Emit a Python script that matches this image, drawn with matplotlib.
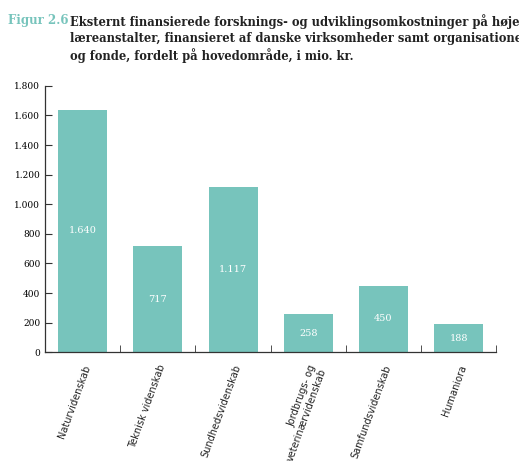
import matplotlib
matplotlib.use("Agg")
import matplotlib.pyplot as plt
import numpy as np

categories = ["Naturvidenskab", "Teknisk videnskab", "Sundhedsvidenskab",
              "Jordbrugs- og\nveterinærvidenskab", "Samfundsvidenskab", "Humaniora"]
values = [1640, 717, 1117, 258, 450, 188]
yticks = [0, 200, 400, 600, 800, 1000, 1200, 1400, 1600, 1800]


def dk(v):
    return f"{v:,}".replace(",", ".")


fig = plt.figure(figsize=(5.19, 4.69), dpi=100)
ax = fig.add_axes([0.087, 0.249, 0.869, 0.568])
x = np.arange(len(categories))
bars = ax.bar(x, values, width=0.65, color="#77c4bc")
for b, v in zip(bars, values):
    ax.text(b.get_x() + b.get_width() / 2, v / 2, dk(v), ha="center", va="center",
            color="white", fontsize=7, family="DejaVu Serif")

ax.set_ylim(0, 1800)
ax.set_xlim(-0.5, len(categories) - 0.5)
ax.set_yticks(yticks)
ax.set_yticklabels([dk(t) for t in yticks], fontsize=6.5, family="DejaVu Serif")
ax.set_xticks(x)
ax.set_xticklabels(categories, rotation=70, ha="right", va="top", rotation_mode="anchor",
                   fontsize=7, family="DejaVu Sans", color="#222222")
ax.tick_params(axis="x", length=0, pad=8)
ax.set_xticks(np.arange(-0.5, len(categories)), minor=True)
ax.tick_params(axis="x", which="minor", direction="in", length=5, color="#333333")
ax.tick_params(axis="y", direction="in", length=5, color="#333333")
for s in ("top", "right"):
    ax.spines[s].set_visible(False)
for s in ("left", "bottom"):
    ax.spines[s].set_color("#333333")
    ax.spines[s].set_linewidth(0.9)

fig.text(0.015, 0.97, "Figur 2.6", color="#77c4bc", fontsize=8.5, fontweight="bold",
         family="DejaVu Serif", va="top")
fig.text(0.135, 0.97,
         "Eksternt finansierede forsknings- og udviklingsomkostninger på højere\n"
         "læreanstalter, finansieret af danske virksomheder samt organisationer\n"
         "og fonde, fordelt på hovedområde, i mio. kr.",
         color="#222222", fontsize=8.3, fontweight="bold", family="DejaVu Serif",
         va="top", linespacing=1.3)

fig.savefig("out.png", dpi=100)
